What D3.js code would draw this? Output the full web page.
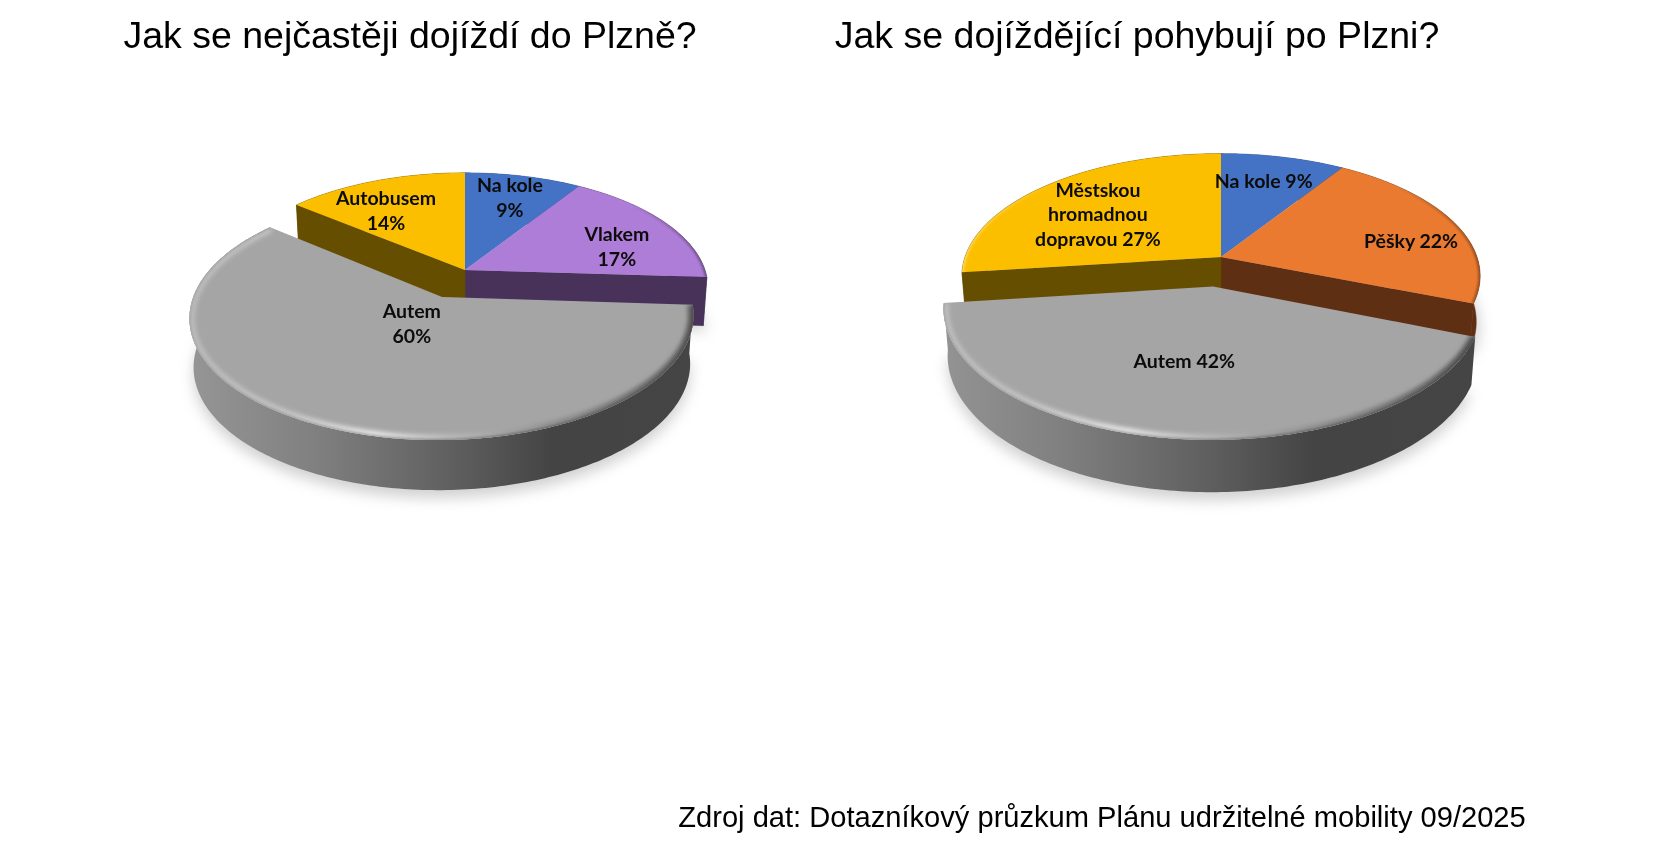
<!DOCTYPE html>
<html>
<head>
<meta charset="utf-8">
<script src="https://cdnjs.cloudflare.com/ajax/libs/d3/7.8.5/d3.min.js"></script>
<style>html,body{margin:0;padding:0;background:#fff;overflow:hidden}svg{display:block}</style>
</head>
<body>
<svg id="chart" width="1671" height="851"></svg>
<script>
// ---- data ----
const leftTitle = "Jak se nejčastěji dojíždí do Plzně?";
const leftCategories = ["Na kole", "Vlakem", "Autem", "Autobusem"];
const leftValues = [9, 17, 60, 14];
const leftLabels = [["Na kole", "9%"], ["Vlakem", "17%"], ["Autem", "60%"], ["Autobusem", "14%"]];

const rightTitle = "Jak se dojíždějící pohybují po Plzni?";
const rightCategories = ["Na kole", "Pěšky", "Autem", "Městskou hromadnou dopravou"];
const rightValues = [9, 22, 42, 27];
const rightLabels = [["Na kole 9%"], ["Pěšky 22%"], ["Autem 42%"], ["Městskou", "hromadnou", "dopravou 27%"]];

const sourceNote = "Zdroj dat: Dotazníkový průzkum Plánu udržitelné mobility 09/2025";

// ---- styles / layout ----
const leftColors = ["#4472c4", "#ae7dd7", "#a5a5a5", "#fcbf00"];
const leftWalls = ["#2a4478", "#48325a", "#808080", "#664e00"];
const rightColors = ["#4472c4", "#ea7a30", "#a5a5a5", "#fcbf00"];
const rightWalls = ["#2a4478", "#5f2f14", "#808080", "#664e00"];

const leftGeom = {cx:465, cy:270, rx:240, ry:112, k:0.153, explode:0.25, depth:48.5, depthPow:0.15, wallScale:0.985};
const rightGeom = {cx:1221, cy:257, rx:256, ry:119.4, k:0.155, explode:0.24, depth:45, depthPow:0.7, wallScale:0.985};
// label placement on the pie plane: fraction of radius, degrees of turn from slice middle
const leftLabelRadius = [0.745, 0.687, 0.245, 0.678];
const leftLabelTurn = [0, 9, 6.2, -6.7];
const rightLabelRadius = [0.73, 0.768, 0.539, 0.63];
const rightLabelTurn = [-1.5, 8.3, 3.1, -5.2];

const svg = d3.select("#chart");
const defs = svg.append("defs");
const blur = (name, sd) => defs.append("filter").attr("id", name)
  .attr("filterUnits","userSpaceOnUse").attr("x",0).attr("y",0).attr("width",1671).attr("height",851)
  .append("feGaussianBlur").attr("stdDeviation", sd);
blur("shadowBlur", 7);
blur("bevelBlur", 2);
blur("edgeBlur", 1.2);

const lineGen = d3.line();

function drawPie(id, g, values, colors, walls, labels, labelR, labelT) {
  const arcs = d3.pie().sort(null).startAngle(0).endAngle(2 * Math.PI)(values);
  const maxIdx = d3.maxIndex(values);
  const big = arcs[maxIdx];
  const midOf = a => (a.startAngle + a.endAngle) / 2;
  const bigMid = midOf(big);
  const off = [g.explode * Math.sin(bigMid), -g.explode * Math.cos(bigMid)];

  const topPt = (u, v) => {
    const w = 1 - g.k * v;
    return [g.cx + g.rx * u / w, g.cy + g.ry * v / w];
  };
  const botPt = (u, v) => {
    const w = 1 - g.k * v;
    const d = g.depth / Math.pow(w, g.depthPow);
    return [g.cx + g.rx * g.wallScale * u / w, g.cy + g.ry * v / w + d];
  };
  const rim = (a, o, fn) => {
    const n = Math.max(8, Math.ceil((a.endAngle - a.startAngle) * 60));
    return d3.range(n + 1).map(i => {
      const t = a.startAngle + (a.endAngle - a.startAngle) * i / n;
      return fn(Math.sin(t) + o[0], -Math.cos(t) + o[1]);
    });
  };
  const none = [0, 0];
  const root = svg.append("g");

  const x0 = g.cx - g.rx * 1.2, x1 = g.cx + g.rx * 1.1;
  const grad = (name, stops) => {
    const lg = defs.append("linearGradient").attr("id", id + name).attr("gradientUnits","userSpaceOnUse")
      .attr("x1", x0).attr("x2", x1).attr("y1", 0).attr("y2", 0);
    stops.forEach(s => lg.append("stop").attr("offset", s[0]).attr("stop-color", s[1]).attr("stop-opacity", s[2] === undefined ? 1 : s[2]));
  };
  grad("Wall", [[0.03,"#959595"],[0.25,"#808080"],[0.5,"#5f5f5f"],[0.68,"#444444"],[1,"#454545"]]);
  grad("Bevel", [[0.03,"#bcbcbc"],[0.2,"#c4c4c4"],[0.36,"#e6e6e6"],[0.47,"#c2c2c2"],[0.58,"#a5a5a5"],[0.7,"#8a8a8a"],[0.85,"#6a6a6a"],[1,"#4a4a4a"]]);
  grad("Edge", [[0.08,"#ffffff",0.35],[0.25,"#ffffff",0],[0.82,"#000000",0],[0.98,"#000000",0.4]]);

  // soft ground shadow under the whole pie
  const botRim = rim(big, off, botPt);
  const shadows = root.append("g").attr("fill","#bdbdbd").attr("opacity",0.7).attr("filter","url(#shadowBlur)");
  shadows.append("path").attr("d", lineGen(botRim) + "Z").attr("transform","translate(0,8)");
  arcs.forEach((a, i) => {
    if (i === maxIdx) return;
    shadows.append("path").attr("d", lineGen([botPt(0,0)].concat(rim(a, none, botPt))) + "Z").attr("transform","translate(3,5)");
  });

  // walls of the slices that stay in place
  arcs.forEach((a, i) => {
    if (i === maxIdx) return;
    const topR = rim(a, none, topPt), botR = rim(a, none, botPt);
    const wall = root.append("g").attr("fill", walls[i]).attr("stroke", walls[i]).attr("stroke-width", 0.5);
    wall.append("path").attr("d", lineGen(topR.concat(botR.slice().reverse())) + "Z");
    const radial = t => {
      const u = Math.sin(t), v = -Math.cos(t);
      wall.append("path").attr("d", lineGen([topPt(0,0), topPt(u,v), botPt(u,v), botPt(0,0)]) + "Z");
    };
    if (Math.abs(a.endAngle - big.startAngle) < 1e-6) radial(a.endAngle);
    if (Math.abs(a.startAngle - big.endAngle) < 1e-6) radial(a.startAngle);
  });
  // top faces of the slices that stay in place
  arcs.forEach((a, i) => {
    if (i === maxIdx) return;
    const topR = rim(a, none, topPt);
    const shape = lineGen([topPt(0,0)].concat(topR)) + "Z";
    root.append("path").attr("d", shape).attr("fill", colors[i]);
    const clip = id + "clip" + i;
    defs.append("clipPath").attr("id", clip).append("path").attr("d", shape);
    root.append("g").attr("clip-path", `url(#${clip})`).append("path")
      .attr("d", lineGen(topR)).attr("fill","none").attr("stroke",`url(#${id}Edge)`)
      .attr("stroke-width",4).attr("filter","url(#edgeBlur)");
  });

  // exploded slice: outer wall, top, bevel (highlight inside, wall tone at the very edge)
  const bigTop = rim(big, off, topPt);
  root.append("path").attr("d", lineGen(bigTop.concat(botRim.slice().reverse())) + "Z")
    .attr("fill", `url(#${id}Wall)`);
  const bigShape = lineGen([topPt(off[0], off[1])].concat(bigTop)) + "Z";
  root.append("path").attr("d", bigShape).attr("fill", colors[maxIdx]);
  const bigClip = id + "clipBig";
  defs.append("clipPath").attr("id", bigClip).append("path").attr("d", bigShape);
  const bevel = root.append("g").attr("clip-path", `url(#${bigClip})`);
  bevel.append("path").attr("d", lineGen(bigTop)).attr("fill","none")
    .attr("stroke",`url(#${id}Bevel)`).attr("stroke-width",11).attr("filter","url(#bevelBlur)");
  bevel.append("path").attr("d", lineGen(bigTop)).attr("fill","none")
    .attr("stroke",`url(#${id}Wall)`).attr("stroke-width",2.5).attr("opacity",0.6).attr("filter","url(#edgeBlur)");

  // labels
  arcs.forEach((a, i) => {
    const t = midOf(a) + labelT[i] * Math.PI / 180;
    const o = i === maxIdx ? off : none;
    const p = topPt(labelR[i] * Math.sin(t) + o[0], -labelR[i] * Math.cos(t) + o[1]);
    const lines = labels[i];
    const lh = 24.6;
    const text = root.append("text").attr("text-anchor","middle")
      .attr("font-family","Lato, 'Open Sans', sans-serif").attr("font-weight",700)
      .attr("font-size",19.5).attr("fill","#0c0c0c");
    lines.forEach((s, j) => {
      text.append("tspan").attr("x", p[0])
        .attr("y", p[1] + (j - (lines.length - 1) / 2) * lh + 6.5).text(s);
    });
  });
}

drawPie("L", leftGeom, leftValues, leftColors, leftWalls, leftLabels, leftLabelRadius, leftLabelTurn);
drawPie("R", rightGeom, rightValues, rightColors, rightWalls, rightLabels, rightLabelRadius, rightLabelTurn);

const heading = (s, x, y, size) => svg.append("text").attr("x", x).attr("y", y).attr("text-anchor","middle")
  .attr("font-family","'Liberation Sans', Arial, sans-serif").attr("font-size", size).attr("fill","#000").text(s);
heading(leftTitle, 410, 48, 37.5);
heading(rightTitle, 1137, 48, 37.5);
heading(sourceNote, 1102, 827, 29.1);
</script>
</body>
</html>
